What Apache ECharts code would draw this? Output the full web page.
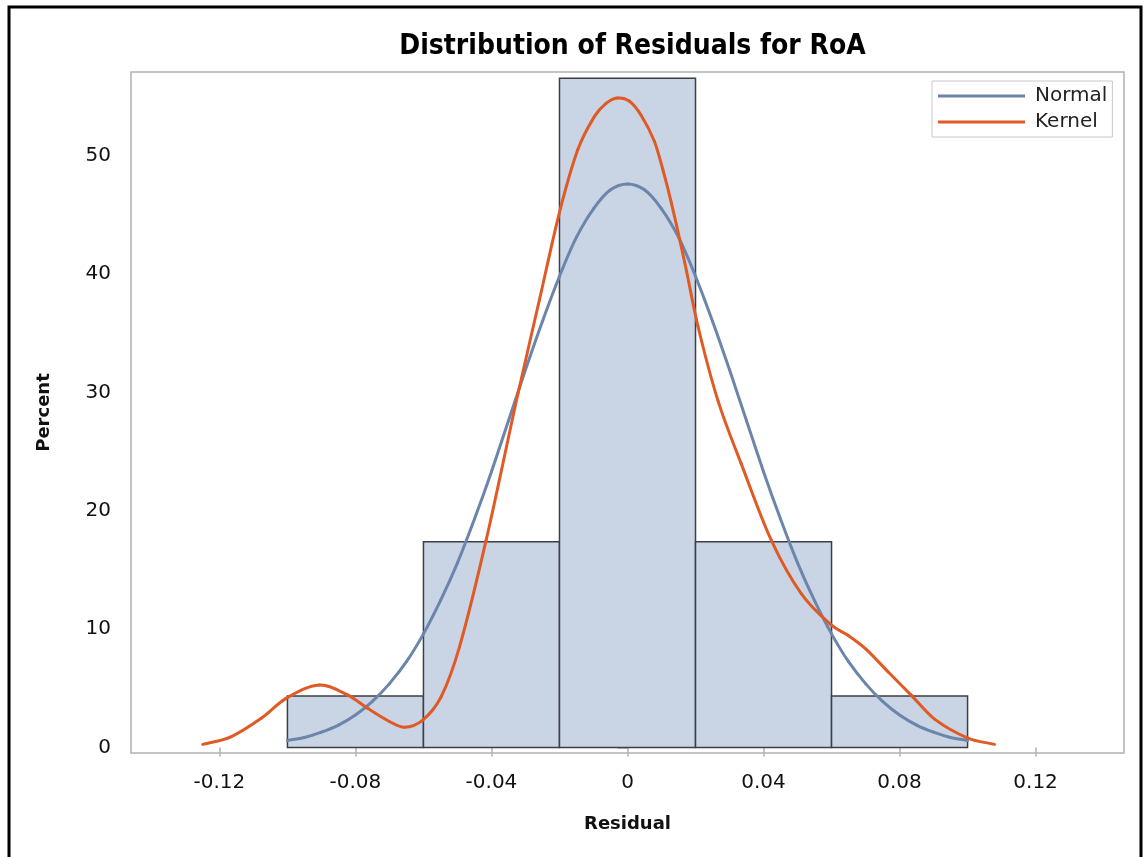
<!DOCTYPE html>
<html>
<head>
<meta charset="utf-8">
<script src="https://cdn.jsdelivr.net/npm/echarts@6/dist/echarts.min.js"></script>
<style>html,body{margin:0;padding:0;background:#fff;}#c{width:1147px;height:857px;}</style>
</head>
<body>
<div id="c"></div>
<script>
// Histogram bins: [start, end, percent]
const binStarts = [-0.10, -0.06, -0.02, 0.02, 0.06];
const binEnds   = [-0.06, -0.02, 0.02, 0.06, 0.10];
const binPercent = [4.35, 17.39, 56.52, 17.39, 4.35];

// Normal density curve (percent)
const normalX = [-0.100, -0.095, -0.090, -0.085, -0.080, -0.075, -0.070, -0.065, -0.060, -0.055, -0.050, -0.045, -0.040, -0.035, -0.030, -0.025, -0.020, -0.015, -0.010, -0.005, 0.000,
                 0.005, 0.010, 0.015, 0.020, 0.025, 0.030, 0.035, 0.040, 0.045, 0.050, 0.055, 0.060, 0.065, 0.070, 0.075, 0.080, 0.085, 0.090, 0.095, 0.100];
const normalY = [0.6, 0.85, 1.3, 1.9, 2.75, 3.9, 5.4, 7.25, 9.6, 12.4, 15.6, 19.3, 23.3, 27.6, 31.9, 36.0, 39.8, 43.1, 45.5, 47.1, 47.6,
                 47.1, 45.5, 43.1, 39.8, 36.0, 31.9, 27.6, 23.3, 19.3, 15.6, 12.4, 9.6, 7.25, 5.4, 3.9, 2.75, 1.9, 1.3, 0.85, 0.6];

// Kernel density curve (percent)
const kernelX = [-0.1249, -0.1166, -0.1077, -0.1004, -0.0906, -0.0822, -0.0764, -0.0700, -0.0656, -0.0602, -0.0548, -0.0494, -0.0416, -0.0322, -0.0259, -0.0200, -0.0146, -0.0097, -0.0063, -0.0030, 0.0005, 0.0040, 0.0079, 0.0104, 0.0129, 0.0168, 0.0207, 0.0266, 0.0334, 0.0423, 0.0511, 0.0599, 0.0650, 0.0702, 0.0766, 0.0834, 0.0903, 0.1001, 0.1079];
const kernelY = [0.27, 0.91, 2.47, 4.15, 5.28, 4.43, 3.31, 2.2, 1.71, 2.32, 4.29, 8.5, 17.47, 29.9, 37.8, 45.2, 50.5, 53.3, 54.4, 54.85, 54.6, 53.4, 51.2, 48.8, 46.0, 41.0, 35.6, 29.3, 24.0, 17.5, 13.0, 10.35, 9.45, 8.3, 6.4, 4.43, 2.4, 0.8, 0.27];

const xTicks = [-0.12, -0.08, -0.04, 0, 0.04, 0.08, 0.12];
const xTickLabels = ['-0.12', '-0.08', '-0.04', '0', '0.04', '0.08', '0.12'];
const yTicks = [0, 10, 20, 30, 40, 50];

const chart = echarts.init(document.getElementById('c'));
const FONT = 'DejaVu Sans';
const NORMAL_COLOR = '#6b85ab';
const KERNEL_COLOR = '#e05a26';
const histData = binStarts.map((s, i) => [s, binEnds[i], binPercent[i]]);
const normalData = normalX.map((x, i) => [x, normalY[i]]);
const kernelData = kernelX.map((x, i) => [x, kernelY[i]]);

// Smooth curve: each data segment drawn as a cubic (Hermite) through the library's coordinate mapping
function curveRenderer(points, color) {
  return function (params, api) {
    const i = params.dataIndex;
    if (i >= points.length - 1) return null;
    const P = j => api.coord(points[Math.max(0, Math.min(points.length - 1, j))]);
    const slope = j => {
      const a = P(j - 1), b = P(j + 1);
      return (b[1] - a[1]) / (b[0] - a[0]);
    };
    const p1 = P(i), p2 = P(i + 1);
    const h = p2[0] - p1[0];
    const s1 = slope(i), s2 = slope(i + 1);
    return {
      type: 'bezierCurve',
      shape: {
        x1: p1[0], y1: p1[1], x2: p2[0], y2: p2[1],
        cpx1: p1[0] + h / 3, cpy1: p1[1] + s1 * h / 3,
        cpx2: p2[0] - h / 3, cpy2: p2[1] - s2 * h / 3
      },
      style: { fill: null, stroke: color, lineWidth: 3, lineCap: 'round' }
    };
  };
}

chart.setOption({
  animation: false,
  backgroundColor: '#fff',
  title: {
    text: 'Distribution of Residuals for RoA',
    left: 627.5, top: 28, textAlign: 'center',
    textStyle: { fontFamily: 'DejaVu Sans Condensed', fontWeight: 'bold', fontSize: 28, color: '#000' }
  },
  graphic: [{
    type: 'rect', silent: true, z: 100,
    shape: { x: 9, y: 7, width: 1132, height: 880 },
    style: { fill: 'none', stroke: '#000', lineWidth: 3 }
  }],
  legend: {
    orient: 'vertical', left: 932, top: 81,
    backgroundColor: '#fff', borderColor: '#c8c8c8', borderWidth: 1,
    padding: [5, 5, 5, 6], itemGap: 6, itemWidth: 87, itemHeight: 3,
    textStyle: { fontFamily: FONT, fontSize: 20, color: '#222', padding: [0, 0, 0, 5] },
    data: [
      { name: 'Normal', icon: 'rect', itemStyle: { color: NORMAL_COLOR } },
      { name: 'Kernel', icon: 'rect', itemStyle: { color: KERNEL_COLOR } }
    ]
  },
  grid: { left: 131, top: 72, right: 23, bottom: 104, show: true, borderColor: '#aeb1b6', borderWidth: 1.5, backgroundColor: 'transparent' },
  xAxis: {
    type: 'value', min: -0.146, max: 0.146,
    name: 'Residual', nameLocation: 'middle', nameGap: 62,
    nameTextStyle: { fontFamily: FONT, fontWeight: 'bold', fontSize: 18, color: '#111' },
    axisLine: { show: false },
    splitLine: { show: false },
    axisTick: { show: true, length: 9, customValues: xTicks, lineStyle: { color: '#aeb1b6', width: 1.5 } },
    axisLabel: { customValues: xTicks, margin: 20, fontFamily: FONT, fontSize: 20, color: '#111',
      formatter: v => { const i = xTicks.findIndex(t => Math.abs(t - v) < 1e-9); return i >= 0 ? xTickLabels[i] : ''; } }
  },
  yAxis: {
    type: 'value', min: -0.46, max: 57.05,
    name: 'Percent', nameLocation: 'middle', nameGap: 78,
    nameTextStyle: { fontFamily: FONT, fontWeight: 'bold', fontSize: 18, color: '#111' },
    axisLine: { show: false },
    splitLine: { show: false },
    axisTick: { show: true, length: 10, customValues: yTicks, lineStyle: { color: '#aeb1b6', width: 1.5 } },
    axisLabel: { customValues: yTicks, margin: 20, fontFamily: FONT, fontSize: 20, color: '#111' }
  },
  series: [
    {
      type: 'custom', name: 'hist', data: histData, z: 1,
      encode: { x: [0, 1], y: 2 },
      renderItem: function (params, api) {
        const p0 = api.coord([api.value(0), api.value(2)]);
        const p1 = api.coord([api.value(1), 0]);
        return {
          type: 'rect',
          shape: { x: p0[0], y: p0[1], width: p1[0] - p0[0], height: p1[1] - p0[1] },
          style: { fill: '#c9d4e5', stroke: '#3c3f44', lineWidth: 1.5 }
        };
      }
    },
    {
      type: 'custom', name: 'Normal', data: normalData, z: 3,
      encode: { x: 0, y: 1 }, itemStyle: { color: NORMAL_COLOR },
      renderItem: curveRenderer(normalData, NORMAL_COLOR)
    },
    {
      type: 'custom', name: 'Kernel', data: kernelData, z: 4,
      encode: { x: 0, y: 1 }, itemStyle: { color: KERNEL_COLOR },
      renderItem: curveRenderer(kernelData, KERNEL_COLOR)
    }
  ]
});
</script>
</body>
</html>
